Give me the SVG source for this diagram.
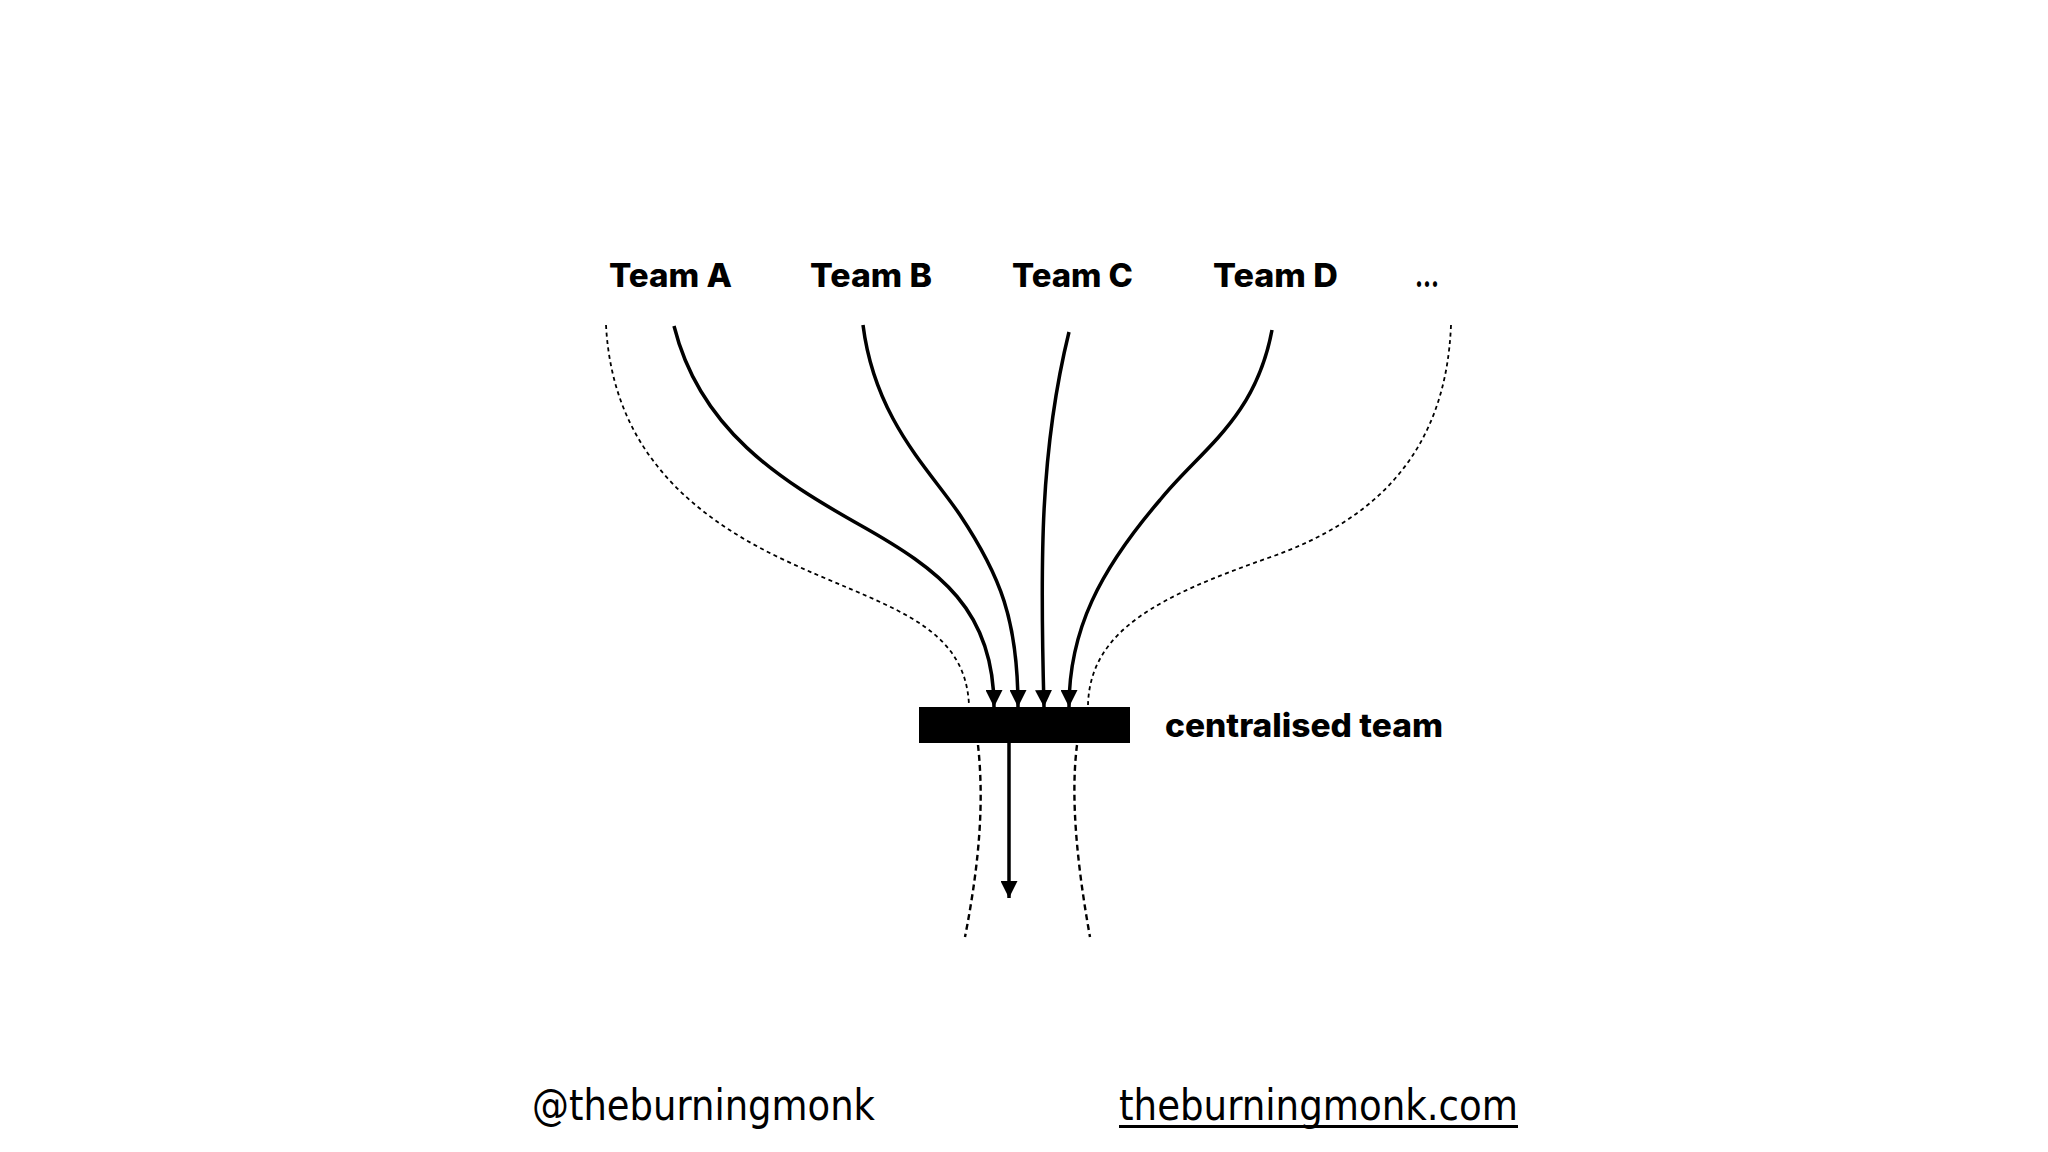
<svg xmlns="http://www.w3.org/2000/svg" width="2048" height="1152" viewBox="0 0 2048 1152">
<style>
.lbl{font-family:Inter,"Noto Sans","Liberation Sans",sans-serif;font-weight:800;font-size:32px;fill:#000}
.foot{font-family:"DejaVu Sans Condensed","DejaVu Sans","Liberation Sans",sans-serif;font-size:43px;fill:#000}
.flow{fill:none;stroke:#000;stroke-width:3.5;marker-end:url(#ah)}
.bound{fill:none;stroke:#000;stroke-width:1.8;stroke-dasharray:4 3.5}
.bound2{fill:none;stroke:#000;stroke-width:2.4;stroke-dasharray:6 4}
</style>
<defs>
<marker id="ah" markerUnits="userSpaceOnUse" viewBox="0 0 17 17" refX="17" refY="8.5" markerWidth="17" markerHeight="17" orient="auto">
<path d="M0,0 L17,8.5 L0,17 z" fill="#000"/>
</marker>
</defs>
<rect width="2048" height="1152" fill="#fff"/>
<g id="team-a"><text class="lbl" x="609" y="287" textLength="123" lengthAdjust="spacingAndGlyphs">Team A</text></g>
<g id="team-b"><text class="lbl" x="810" y="287" textLength="122" lengthAdjust="spacingAndGlyphs">Team B</text></g>
<g id="team-c"><text class="lbl" x="1012" y="287" textLength="121" lengthAdjust="spacingAndGlyphs">Team C</text></g>
<g id="team-d"><text class="lbl" x="1213" y="287" textLength="125" lengthAdjust="spacingAndGlyphs">Team D</text></g>
<g id="team-more"><text class="lbl" x="1415" y="287" textLength="24" lengthAdjust="spacingAndGlyphs">...</text></g>
<g id="centralised-team">
<rect x="919" y="707" width="211" height="36" fill="#000"/>
<text class="lbl" x="1165" y="737" textLength="278" lengthAdjust="spacingAndGlyphs">centralised team</text>
</g>
<g id="connectors">
<path class="bound" d="M606,325 C612,440 680,510 780,558 C880,606 965,620 969,705"/>
<path class="bound" d="M1451,325 C1446,450 1378,520 1268,558 C1160,596 1090,630 1088,705"/>
<path class="bound2" d="M978,745 C984,800 980,860 965,937"/>
<path class="bound2" d="M1077,745 C1070,800 1078,870 1090,937"/>
<path class="flow" d="M674,326 C700,430 780,480 860,525 C940,570 994,610 994,707"/>
<path class="flow" d="M863,325 C875,420 930,470 960,515 C1000,575 1018,620 1018,707"/>
<path class="flow" d="M1069,332 C1040,450 1040,560 1044,707"/>
<path class="flow" d="M1272,330 C1255,420 1200,450 1160,500 C1100,570 1069,630 1069,707"/>
<path class="flow" stroke-width="4" d="M1009,743 L1009,898"/>
</g>
<g id="footer">
<text class="foot" x="532" y="1120" textLength="343" lengthAdjust="spacingAndGlyphs">@theburningmonk</text>
<text class="foot" x="1119" y="1120" textLength="399" lengthAdjust="spacingAndGlyphs">theburningmonk.com</text>
<rect x="1119" y="1125" width="399" height="3" fill="#000"/>
</g>
</svg>
